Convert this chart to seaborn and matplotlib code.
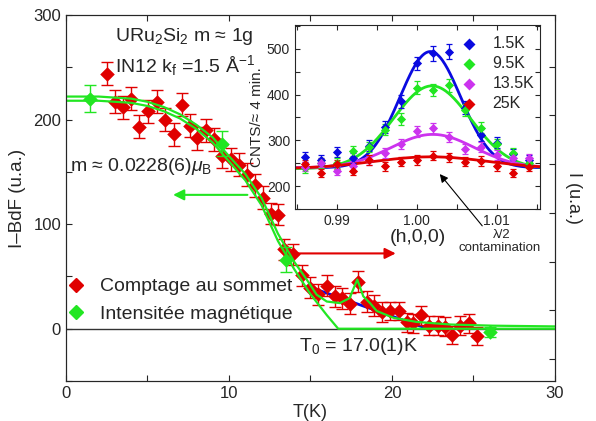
import numpy as np
import pandas as pd
import seaborn as sns
import matplotlib.pyplot as plt
from matplotlib.lines import Line2D
from matplotlib.ticker import MultipleLocator, NullFormatter

# main panel: peak counts (red) and magnetic intensity (green) vs T
temp_peak = [2.5, 3.0, 3.5, 4.0, 4.5, 5.05, 5.6, 6.1, 6.6, 7.1, 7.6, 8.06, 8.57, 9.08,
             9.6, 10.1, 10.6, 11.08, 11.6, 12.07, 12.56, 13.0, 13.4, 13.95, 14.46, 14.95,
             15.45, 16.0, 16.5, 16.95, 17.4, 17.9, 18.45, 18.9, 19.4, 19.9, 20.4, 20.9,
             21.3, 21.8, 22.3, 22.8, 23.25, 23.7, 24.2, 24.7, 25.2]
count_peak = [244, 217, 212, 220, 193, 208, 217, 200, 186, 214, 194, 182, 190, 181,
              165, 162, 157, 147, 137, 125, 110, 109, 76, 71, 51, 39,
              33, 41, 31, 29, 24, 45, 26, 22, 16, 17, 17, 6,
              5, 13, 3, 3, 2, -6, 3, 5, -7]
err_peak = [11] * 20 + [10] * 15 + [9] * 12

temp_mag = [1.5, 9.55, 13.5, 26.0]
int_mag = [220, 177, 66, -3]
err_mag = [13, 12, 12, 5]

# fit curves
fit_a_T = [0, 2, 4, 5, 6, 7, 8, 9, 10, 11, 12, 13, 14, 15, 16, 16.7, 30]
fit_a_y = [218, 218, 216, 213, 208, 201, 191, 178, 160, 142, 118, 84, 57, 33, 13, 0, 0]
fit_b_T = [0, 2, 4, 5, 6, 7, 8, 9, 10, 11, 12, 13, 14, 14.77, 15.38, 16.0, 16.8, 17.4,
           17.87, 18.24, 18.65, 19.06, 20.08, 21.5, 23.6, 26.2, 30]
fit_b_y = [222, 222, 220, 217, 212, 205, 195, 183, 165, 148, 125, 91, 64, 47, 32.5, 26,
           24.5, 29.3, 47, 31, 24.5, 17, 10.5, 6.5, 4, 2.9, 2.2]
lin_T = [15.1, 22.0]
lin_y = [39, 1]

# inset: scans along (h,0,0)
h_vals = [0.986, 0.988, 0.990, 0.992, 0.994, 0.996, 0.998, 1.000, 1.002, 1.004,
          1.006, 1.008, 1.010, 1.012, 1.014]
cnt_15 = [264, 258, 274, 262, 288, 330, 385, 468, 490, 494, 371, 312, 295, 270, 258]
cnt_95 = [239, 251, 250, 277, 285, 323, 346, 415, 410, 420, 366, 328, 292, 272, 251]
cnt_135 = [242, 251, 234, 245, 256, 272, 292, 320, 326, 308, 281, 285, 268, 262, 261]
cnt_25 = [248, 228, 248, 234, 257, 243, 253, 257, 266, 263, 253, 255, 244, 229, 242]
err_15 = [11, 11, 11, 11, 12, 13, 14, 15, 16, 16, 14, 13, 12, 12, 11]
err_95 = [10, 11, 11, 11, 11, 12, 13, 14, 14, 14, 13, 12, 12, 11, 11]
err_135 = [10, 10, 10, 10, 10, 11, 11, 12, 12, 11, 11, 11, 10, 10, 10]
err_25 = [10, 9, 10, 9, 10, 10, 10, 10, 10, 10, 10, 10, 10, 9, 10]
# gaussian fit parameters: centre, amplitude, width, background
gauss_15 = (1.0017, 254, 0.0038, 240)
gauss_95 = (1.0019, 181, 0.0048, 238)
gauss_135 = (1.0020, 73, 0.0052, 240)
gauss_25 = (1.0018, 26, 0.0072, 238)

RED = '#e00000'
GREEN = '#22e622'
BLUE = '#0a0ae0'
PURPLE = '#cc33ee'

sns.set_style("ticks")
plt.rcParams['font.family'] = ['Liberation Sans', 'DejaVu Sans']
plt.rcParams['mathtext.fontset'] = 'custom'
plt.rcParams['mathtext.rm'] = 'Liberation Sans'
plt.rcParams['mathtext.it'] = 'Liberation Sans:italic'

fig = plt.figure(figsize=(5.96, 4.21), dpi=100)
ax = fig.add_axes([0.1107, 0.095, 0.8205, 0.8694])

ax.axhline(0, color='#333333', lw=1, zorder=1)
sns.lineplot(x=lin_T, y=lin_y, ax=ax, color=BLUE, lw=2, estimator=None, sort=False, zorder=2)
sns.lineplot(x=fit_a_T, y=fit_a_y, ax=ax, color=GREEN, lw=1.6, estimator=None, sort=False, zorder=5)
sns.lineplot(x=fit_b_T, y=fit_b_y, ax=ax, color=GREEN, lw=1.6, estimator=None, sort=False, zorder=5)

ax.errorbar(temp_peak, count_peak, yerr=err_peak, fmt='none', ecolor=RED, elinewidth=1,
            capsize=4, capthick=1, zorder=3)
sns.scatterplot(x=temp_peak, y=count_peak, ax=ax, marker='D', s=55, color=RED,
                edgecolor=RED, linewidth=0, zorder=4)
ax.errorbar(temp_mag, int_mag, yerr=err_mag, fmt='none', ecolor=GREEN, elinewidth=1,
            capsize=4, capthick=1, zorder=6)
sns.scatterplot(x=temp_mag, y=int_mag, ax=ax, marker='D', s=55, color=GREEN,
                edgecolor=GREEN, linewidth=0, zorder=6)

ax.annotate('', xy=(6.4, 128), xytext=(11.3, 128),
            arrowprops=dict(arrowstyle='-|>', color=GREEN, lw=1.5, mutation_scale=16))
ax.annotate('', xy=(20.4, 72), xytext=(13.9, 72),
            arrowprops=dict(arrowstyle='-|>', color=RED, lw=1.5, mutation_scale=16))

ax.text(3.0, 279, 'URu$_2$Si$_2$ m ≈ 1g', fontsize=14, va='center')
ax.text(3.0, 252, 'IN12 k$_{\\rm f}$ =1.5 Å$^{-1}$', fontsize=14, va='center')
ax.text(0.25, 155, 'm ≈ 0.0228(6)$\\mu_{\\rm B}$', fontsize=14, va='center')
ax.text(14.3, -17, 'T$_0$ = 17.0(1)K', fontsize=14, va='center')

handles = [Line2D([], [], marker='D', color=RED, ls='none', ms=7),
           Line2D([], [], marker='D', color=GREEN, ls='none', ms=7)]
ax.legend(handles, ['Comptage au sommet', 'Intensitée magnétique'], loc='upper left',
          bbox_to_anchor=(-0.035, 0.33), frameon=False, fontsize=14, handlelength=1,
          handletextpad=0.75, labelspacing=0.5)

ax.set_xlim(0, 30)
ax.set_ylim(-50, 300)
ax.set_xticks([0, 10, 20, 30])
ax.set_yticks([0, 100, 200, 300])
ax.xaxis.set_minor_locator(MultipleLocator(5))
ax.yaxis.set_minor_locator(MultipleLocator(50))
ax.tick_params(which='both', direction='in', length=4, width=0.8, top=True, labelsize=12)
ax.set_xlabel('T(K)', fontsize=13, labelpad=2)
ax.set_ylabel('I–BdF (u.a.)', fontsize=13.5, labelpad=5)
for s in ax.spines.values():
    s.set_linewidth(0.8)

axr = ax.twinx()
axr.set_ylim(-0.452, 7.063)
axr.set_yticks(range(7))
axr.yaxis.set_major_formatter(NullFormatter())
axr.tick_params(direction='in', length=4, width=0.8)
axr.set_ylabel('I (u.a.)', fontsize=13, rotation=-90, labelpad=16)

# inset
axin = fig.add_axes([0.495, 0.5036, 0.4111, 0.437])
axin.set_facecolor('white')
series = [('1.5K', cnt_15, err_15, gauss_15, BLUE),
          ('9.5K', cnt_95, err_95, gauss_95, GREEN),
          ('13.5K', cnt_135, err_135, gauss_135, PURPLE),
          ('25K', cnt_25, err_25, gauss_25, RED)]
h_fine = np.linspace(0.9845, 1.0156, 300)
for label, cnt, err, (c0, amp, wid, bg), col in series:
    fit = bg + amp * np.exp(-0.5 * ((h_fine - c0) / wid) ** 2)
    sns.lineplot(x=h_fine, y=fit, ax=axin, color=col, lw=2, estimator=None, zorder=2)
    axin.errorbar(h_vals, cnt, yerr=err, fmt='none', ecolor=col, elinewidth=0.9,
                  capsize=2.5, capthick=0.9, zorder=3)
    sns.scatterplot(x=h_vals, y=cnt, ax=axin, marker='D', s=22, color=col,
                    edgecolor=col, linewidth=0, zorder=4, label=label)
axin.legend(loc='upper right', bbox_to_anchor=(1.035, 1.02), frameon=False, fontsize=11.5,
            handlelength=0.8, handletextpad=1.1, labelspacing=0.32, markerscale=1.3)
axin.set_xlim(0.9848, 1.0154)
axin.set_ylim(150, 552)
axin.set_xticks([0.99, 1.00, 1.01])
axin.set_xticklabels(['0.99', '1.00', '1.01'])
axin.set_yticks([200, 300, 400, 500])
axin.xaxis.set_minor_locator(MultipleLocator(0.005))
axin.yaxis.set_minor_locator(MultipleLocator(50))
axin.tick_params(which='both', direction='in', length=3.5, width=0.8, top=True, right=True,
                 labelsize=10)
axin.set_xlabel('(h,0,0)', fontsize=14, labelpad=1)
axin.set_ylabel('CNTS/≈ 4 min.', fontsize=11, labelpad=2)
for s in axin.spines.values():
    s.set_linewidth(0.8)

fig.text(502 / 596, 1 - 235 / 421, 'λ/2', fontsize=9.5, ha='center', va='center')
fig.text(500 / 596, 1 - 248 / 421, 'contamination', fontsize=9.5, ha='center', va='center')
axin.annotate('', xy=(1.00266, 231), xytext=(484 / 596, 1 - 228 / 421),
              textcoords='figure fraction', annotation_clip=False,
              arrowprops=dict(arrowstyle='-|>', color='black', lw=0.8, mutation_scale=12))

fig.savefig('out.png', dpi=100)
